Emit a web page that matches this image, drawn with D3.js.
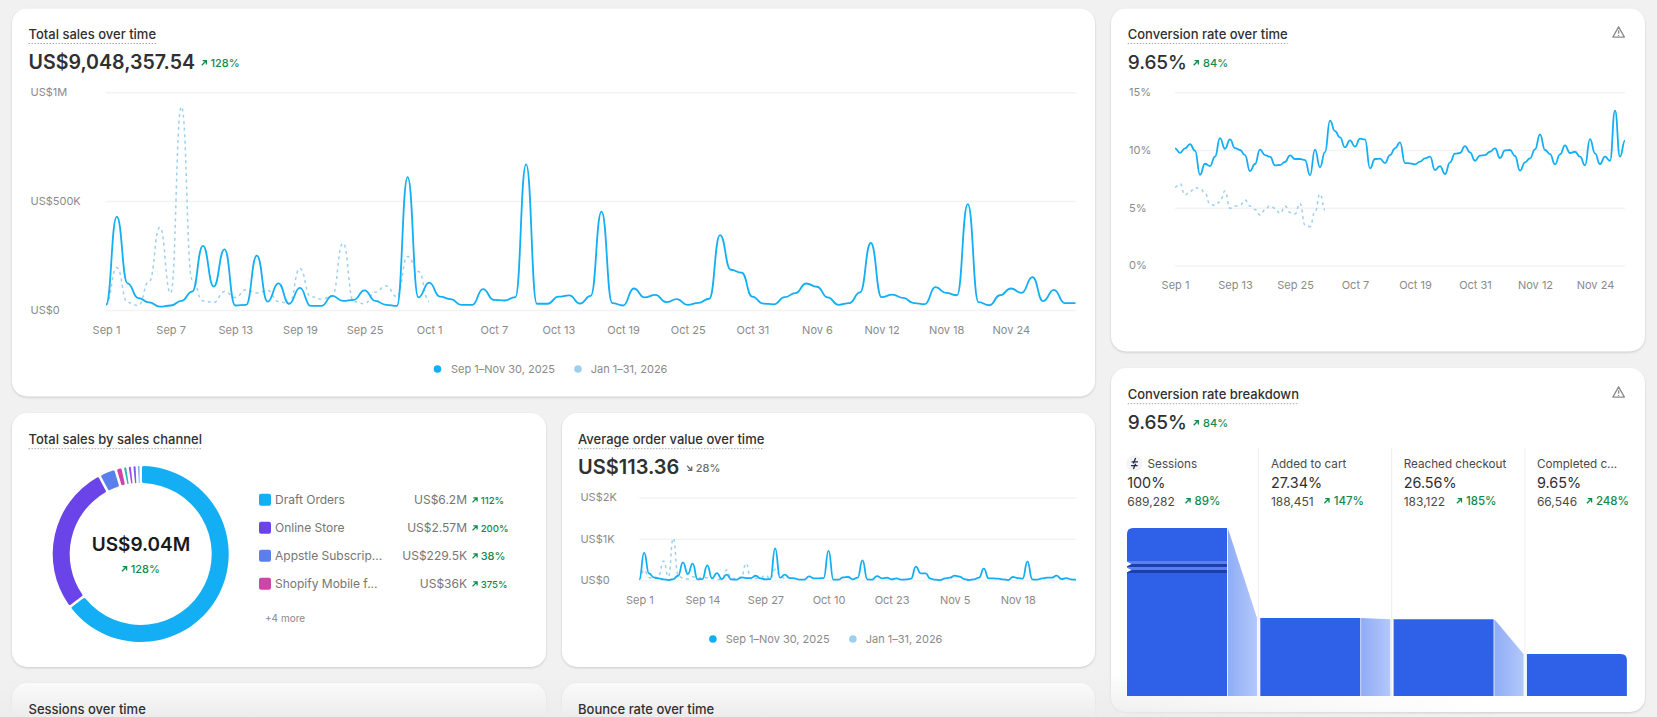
<!DOCTYPE html>
<html><head><meta charset="utf-8">
<script src="https://cdn.jsdelivr.net/npm/d3@7"></script>
<style>
html,body{margin:0;padding:0;background:#f1f1f1;overflow:hidden}
svg{display:block}
text{font-family:Inter,"Noto Sans",sans-serif}
.card{fill:#fff;filter:drop-shadow(0 1px 1px rgba(0,0,0,.16))}
.axis path,.axis line{display:none}
.axis text{font-size:11px;fill:#8a8a8a;font-family:Inter,sans-serif}
</style></head><body>
<script>
// ---------- data ----------
const salesCurrent=[26,431,125,57,37,18,23,44,87,297,110,281,23,26,252,41,125,31,104,21,21,67,44,49,92,44,26,21,612,60,128,64,52,26,26,98,49,46,61,671,31,31,64,69,32,67,454,34,23,101,60,72,38,52,26,35,54,346,187,174,64,32,28,61,80,124,109,60,26,34,83,310,61,73,58,34,29,107,81,70,488,38,24,70,101,81,153,43,95,34,34];
const salesPrior=[26,197,37,23,133,382,80,936,141,44,37,87,60,95,80,92,41,31,193,64,52,67,309,41,31,84,113,64,248,179,41];
const salesYTicks=[0,500,1000];
const salesYLabels=["US$0","US$500K","US$1M"];
const salesXTicks=["Sep 1","Sep 7","Sep 13","Sep 19","Sep 25","Oct 1","Oct 7","Oct 13","Oct 19","Oct 25","Oct 31","Nov 6","Nov 12","Nov 18","Nov 24"];

const convCurrent=[10.18,9.8,10.18,10.55,9.98,7.9,8.85,8.65,9.46,11.07,10.15,10.96,10.2,10.04,9.6,8.22,8.83,10.07,9.6,9.46,8.71,8.74,9.0,9.58,9.26,9.26,9.17,7.85,10.07,8.54,9.86,12.58,11.68,11.13,10.27,10.87,10.33,11.02,10.96,8.45,9.26,9.29,8.91,9.6,10.18,10.7,8.91,8.88,8.8,9.03,9.32,9.46,8.31,8.65,7.96,8.97,9.72,9.78,10.38,9.84,9.11,9.55,9.6,9.89,10.18,9.35,10.0,10.04,9.52,8.25,8.97,9.32,10.09,11.39,10.04,9.69,8.8,9.66,10.44,9.78,9.89,9.46,8.71,10.99,9.75,8.83,9.46,9.11,13.44,9.46,10.85];
const convPrior=[6.84,7.12,6.14,6.43,6.78,6.72,6.29,5.36,5.25,5.57,6.49,4.99,5.19,5.25,5.71,5.19,4.9,4.41,4.85,5.22,4.99,4.56,5.19,4.64,4.5,5.42,3.55,3.4,4.7,6.23,4.85];
const convYTicks=[0,5,10,15];
const convYLabels=["0%","5%","10%","15%"];
const convXTicks=["Sep 1","Sep 13","Sep 25","Oct 7","Oct 19","Oct 31","Nov 12","Nov 24"];

const aovCurrent=[30,677,177,80,56,32,16,40,120,443,161,411,32,40,370,56,185,40,145,32,24,80,64,64,120,56,32,40,782,72,145,64,56,24,24,105,56,56,64,725,24,24,80,89,32,72,490,32,24,113,56,72,32,56,24,32,48,339,177,177,48,24,16,56,72,121,97,40,16,32,72,290,56,56,48,32,16,89,64,48,460,32,24,56,72,72,121,40,64,32,24];
const aovPrior=[32,258,80,32,137,476,97,1024,137,56,40,97,64,80,72,56,32,32,258,56,48,64,419,40,48,72,137,48,274,137,48];
const aovYTicks=[0,1000,2000];
const aovYLabels=["US$0","US$1K","US$2K"];
const aovXTicks=["Sep 1","Sep 14","Sep 27","Oct 10","Oct 23","Nov 5","Nov 18"];

const legendLabels=["Sep 1–Nov 30, 2025","Jan 1–31, 2026"];

const channelNames=["Draft Orders","Online Store","Appstle Subscrip...","Shopify Mobile f..."];
const channelValues=["US$6.2M","US$2.57M","US$229.5K","US$36K"];
const channelDeltas=["112%","200%","38%","375%"];
const channelRing=[232,97.5,10,3.5,1.8,1.8,1.8,1.2]; // ring share, as drawn
const channelColors=["#13aef3","#6a44e8","#5a80ee","#d044a8","#2cb5aa","#9b4de8","#7d5ce8","#4f8fd8"];

const funnelSteps=["Sessions","Added to cart","Reached checkout","Completed c..."];
const funnelRates=[100,27.34,26.56,9.65];
const funnelRateLabels=["100%","27.34%","26.56%","9.65%"];
const funnelCounts=["689,282","188,451","183,122","66,546"];
const funnelDeltas=["89%","147%","185%","248%"];

// ---------- page ----------
const W=1657,H=717,BLUE="#13aef3",PALE="#9dd0ee",GREEN="#0f8a4b",DARK="#303030",GREY="#8a8a8a";
const days=d3.timeDay.range(new Date(2025,8,1),new Date(2025,11,1)).map(d3.timeFormat("%b %-d"));
const svg=d3.select("body").append("svg").attr("width",W).attr("height",H);
const defs=svg.append("defs");

const fade=defs.append("linearGradient").attr("id","fade").attr("x1",0).attr("x2",0).attr("y1",0).attr("y2",1);
fade.append("stop").attr("offset",0).attr("stop-color","#ececec").attr("stop-opacity",0);
fade.append("stop").attr("offset",1).attr("stop-color","#ececec").attr("stop-opacity",1);
const fadeX=defs.append("linearGradient").attr("id","fadeX").attr("x1",0).attr("x2",1).attr("y1",0).attr("y2",0);
fadeX.append("stop").attr("offset",0).attr("stop-color","#fff");
fadeX.append("stop").attr("offset",.72).attr("stop-color","#fff");
fadeX.append("stop").attr("offset",1).attr("stop-color","#000");
defs.append("mask").attr("id","fadeMask").attr("maskUnits","userSpaceOnUse").attr("x",0).attr("y",660).attr("width",W).attr("height",60)
  .append("rect").attr("x",0).attr("y",660).attr("width",1500).attr("height",60).attr("fill","url(#fadeX)");
const conn=defs.append("linearGradient").attr("id","conn").attr("x1",0).attr("x2",1).attr("y1",0).attr("y2",0);
conn.append("stop").attr("offset",0).attr("stop-color","#8facf5");
conn.append("stop").attr("offset",1).attr("stop-color","#b3c8fb");

function card(x,y,w,h){svg.append("rect").attr("class","card").attr("x",x).attr("y",y).attr("width",w).attr("height",h).attr("rx",15)}
card(12,8.5,1083,388);
card(12,413,534,254);
card(562,413,533,254);
card(12,683,534,120);
card(562,683,533,120);
card(1111,8.5,534,343);
card(1111,368,534,344);
svg.append("rect").attr("x",0).attr("y",672).attr("width",W).attr("height",45).attr("fill","url(#fade)").attr("mask","url(#fadeMask)");

function text(x,y,s,size,color,weight,anchor){
  return svg.append("text").attr("x",x).attr("y",y).attr("dy",".35em").attr("font-size",size).attr("fill",color)
    .attr("font-weight",weight||400).attr("text-anchor",anchor||"start").text(s);
}
function title(x,y,s){
  const t=text(x,y,s,13,"#303030",550);
  const w=t.node().getComputedTextLength();
  svg.append("line").attr("x1",x).attr("x2",x+w).attr("y1",y+9).attr("y2",y+9).attr("stroke","#a8a8a8").attr("stroke-width",1).attr("stroke-dasharray","1.5 1.5");
}
function arrow(x,y,color,down){ // x,y = centre
  const g=svg.append("g").attr("transform",`translate(${x},${y})${down?" scale(1,-1)":""}`)
    .attr("fill","none").attr("stroke",color).attr("stroke-width",1.3);
  g.append("path").attr("d","M-2.2,2.2L2.2,-2.2M-1.4,-2.4H2.4V1.4");
}
function delta(ax,tx,y,s,size,color,down,weight){
  arrow(ax,y,color||GREEN,down);
  text(tx,y,s,size,color||GREEN,weight||500);
}
function warning(x,y){
  const g=svg.append("g").attr("transform",`translate(${x},${y})`).attr("fill","none").attr("stroke","#8a8a8a").attr("stroke-width",1.3).attr("stroke-linejoin","round");
  g.append("path").attr("d","M0,-5.6L5.8,4.6H-5.8Z");
  g.append("path").attr("d","M0,-2.2V1.2M0,2.6V3.4");
}
function legend(y,dx1,tx1,dx2,tx2){
  svg.append("circle").attr("cx",dx1).attr("cy",y).attr("r",3.8).attr("fill",BLUE);
  text(tx1,y,legendLabels[0],11,GREY);
  svg.append("circle").attr("cx",dx2).attr("cy",y).attr("r",3.8).attr("fill",PALE);
  text(tx2,y,legendLabels[1],11,GREY);
}
function lineChart(o){
  const x=d3.scalePoint().domain(days).range([o.x0,o.x1]);
  const y=d3.scaleLinear().domain([o.yTicks[0],o.yTicks[o.yTicks.length-1]]).range([o.y0,o.y1]);
  const g=svg.append("g");
  g.selectAll("line.grid").data(o.yTicks).join("line").attr("x1",o.x0).attr("x2",o.x1)
    .attr("y1",d=>y(d)).attr("y2",d=>y(d)).attr("stroke","#f3f3f3").attr("stroke-width",1.5);
  const ay=g.append("g").attr("class","axis").attr("transform",`translate(${o.labelX},0)`)
    .call(d3.axisRight(y).tickValues(o.yTicks).tickSize(0).tickPadding(0).tickFormat((d,i)=>o.yLabels[i]));
  ay.selectAll("text").attr("dy",".35em").attr("y",-1);
  g.append("g").attr("class","axis").attr("transform",`translate(0,${o.labelY-6})`)
    .call(d3.axisBottom(x).tickValues(o.xTicks).tickSize(0).tickPadding(0));
  const line=d3.line().x((d,i)=>x(days[i])).y(d=>y(d)).curve(d3.curveBumpX);
  g.append("path").attr("d",line(o.prior)).attr("fill","none").attr("stroke",PALE).attr("stroke-width",1.5).attr("stroke-dasharray","3 3.5");
  g.append("path").attr("d",line(o.current)).attr("fill","none").attr("stroke",BLUE).attr("stroke-width",1.8).attr("stroke-linejoin","round");
}

// Total sales over time
title(28.5,34.5,"Total sales over time");
text(28.5,62,"US$9,048,357.54",19.6,"#303030",600);
delta(204,210.5,63,"128%",11,GREEN);
lineChart({x0:106,x1:1075.5,y0:310.5,y1:92.7,labelX:30.5,labelY:332,current:salesCurrent,prior:salesPrior,yTicks:salesYTicks,yLabels:salesYLabels,xTicks:salesXTicks});
legend(369,437.5,451,578,590.7);

// Conversion rate over time
title(1127.7,34.5,"Conversion rate over time");
text(1127.7,62,"9.65%",19,"#303030",500);
delta(1195.9,1203,63,"84%",11,GREEN);
warning(1618.6,32.5);
lineChart({x0:1175,x1:1625,y0:266,y1:92.7,labelX:1129.1,labelY:287,current:convCurrent,prior:convPrior,yTicks:convYTicks,yLabels:convYLabels,xTicks:convXTicks});

// Total sales by sales channel
title(28.5,439.7,"Total sales by sales channel");
const pie=d3.pie().sort(null).padAngle(1.3*Math.PI/180);
const arc=d3.arc().innerRadius(71).outerRadius(88).cornerRadius(1.5);
svg.append("g").attr("transform","translate(140.7,554)").selectAll("path").data(pie(channelRing)).join("path")
  .attr("d",arc).attr("fill",(d,i)=>channelColors[i]);
text(141,544,"US$9.04M",19,"#1a1a1a",600,"middle");
delta(124.2,130.7,569,"128%",11,GREEN);
const legendY=d3.scalePoint().domain(channelNames).range([499.7,583.7]);
channelNames.forEach((n,i)=>{
  const y=legendY(n);
  svg.append("rect").attr("x",259).attr("y",y-6).attr("width",12).attr("height",12).attr("rx",2).attr("fill",channelColors[i]);
  text(275,y,n,12,"#757575");
  text(467,y,channelValues[i],12,"#757575",400,"end");
  delta(474.7,480.7,y+.5,channelDeltas[i],i==2?11:9.6,GREEN);
});
text(265,618,"+4 more",10,"#8a8a8a");

// Average order value over time
title(578,439.7,"Average order value over time");
text(578,466.7,"US$113.36",20,"#303030",600);
delta(689.3,695.7,468,"28%",11,"#6b6b6b",true);
lineChart({x0:639.3,x1:1076,y0:580.7,y1:498,labelX:580.4,labelY:602,current:aovCurrent,prior:aovPrior,yTicks:aovYTicks,yLabels:aovYLabels,xTicks:aovXTicks});
legend(639,712.9,725.7,852.9,865.7);

// Clipped cards at the bottom
title(28.5,709.3,"Sessions over time");
title(578,709.3,"Bounce rate over time");

// Conversion rate breakdown
title(1127.7,394.7,"Conversion rate breakdown");
text(1127.7,422,"9.65%",19,"#303030",500);
delta(1195.9,1203,423,"84%",11,GREEN);
warning(1618.6,392.5);

const fx=d3.scaleBand().domain(funnelSteps).range([1127,1660.2]).paddingInner(0).paddingOuter(0);
const barW=100;
const fh=d3.scalePow().exponent(0.592).domain([0,100]).range([0,168]);
const fy=v=>696-fh(v);
const textX=[1127.2,1270.9,1403.7,1536.9], arrowX=[1187.7,1326.6,1459.1,1589.2], pctX=[1194.5,1333.7,1465.9,1595.9];
funnelSteps.forEach((s,i)=>{
  const bx=fx(s);
  if(i>0) svg.append("line").attr("x1",bx-2).attr("x2",bx-2).attr("y1",448).attr("y2",696).attr("stroke","#f1f1f1").attr("stroke-width",1.2);
  if(i<3){
    const a=fy(funnelRates[i]),b=fy(funnelRates[i+1]),l=bx+barW+.8,r=bx+barW+30;
    svg.append("path").attr("d",d3.line()([[l,a],[r,b],[r,696],[l,696]])).attr("fill","url(#conn)");
  }
  const t=fy(funnelRates[i]),rr=6;
  const p=i==0?`M${bx},696V${t+rr}Q${bx},${t} ${bx+rr},${t}H${bx+barW}V696Z`
    :i==3?`M${bx},696V${t}H${bx+barW-rr}Q${bx+barW},${t} ${bx+barW},${t+rr}V696Z`
    :`M${bx},696V${t}H${bx+barW}V696Z`;
  svg.append("path").attr("d",p).attr("fill","#2f60e8");
  text(i==0?1147.6:textX[i],463.7,s,11.7,"#4a4a4a");
  text(textX[i],483.3,funnelRateLabels[i],14.4,"#303030",400);
  text(textX[i],501.7,funnelCounts[i],12,"#4a4a4a");
  delta(arrowX[i],pctX[i],501,funnelDeltas[i],11.5,GREEN);
});
// Sessions bar stripes and notches, split out of the first bar
const stripeBands=[["#5a80ee",561],["#1b3fae",564],["#5a80ee",567],["#1b3fae",570]];
const bx0=fx(funnelSteps[0]);
svg.selectAll("rect.stripe").data(stripeBands).join("rect").attr("x",bx0).attr("y",d=>d[1]).attr("width",barW).attr("height",3).attr("fill",d=>d[0]);
[564,570].forEach(y=>svg.append("path").attr("d",d3.line()([[bx0-.5,y-2.5],[bx0+4.5,y],[bx0-.5,y+2.5]])).attr("fill","#fff"));
// Sessions icon
svg.append("circle").attr("cx",1134.4).attr("cy",463.5).attr("r",8).attr("fill","#f2f2f7");
svg.append("path").attr("d","M1135.6,458L1133.4,463.4M1131.6,461.8H1138M1131,465.6H1137.6M1135.6,463.8L1133.4,469").attr("fill","none").attr("stroke","#1f2a44").attr("stroke-width",1.3);
</script>
</body></html>
